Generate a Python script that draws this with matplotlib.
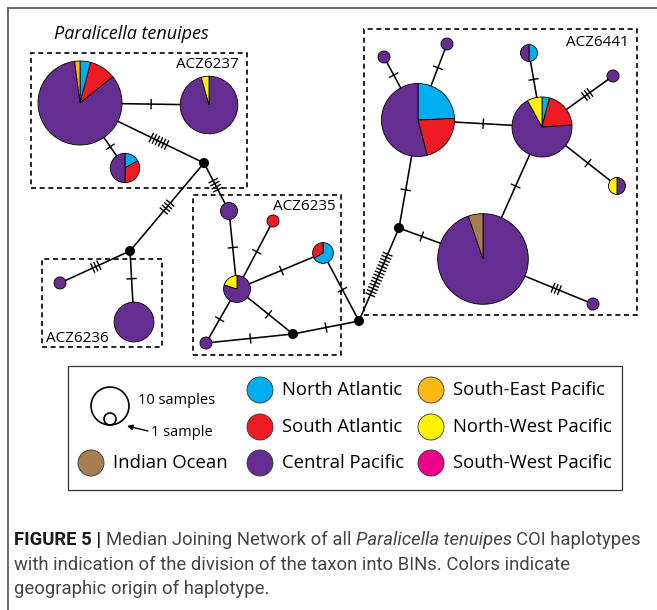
import matplotlib
matplotlib.use("Agg")
import matplotlib.pyplot as plt
import numpy as np
from matplotlib.patches import Circle, Rectangle

W, H = 657, 610

# regions, in the clockwise slice order used by the pies
regions = ["North Atlantic", "South Atlantic", "Central Pacific", "Indian Ocean",
           "North-West Pacific", "South-East Pacific", "South-West Pacific"]
region_colors = ["#00AEEF", "#ED1C24", "#662D91", "#A67C52",
                 "#FFF200", "#FDB913", "#EC008C"]

# haplotypes and sample counts per region
haplotypes = ["h1", "h2", "h3", "h4", "h5", "h6", "h7", "h8", "h9", "h10",
              "h11", "h12", "h13", "h14", "h15", "h16", "h17", "h18", "h19"]
north_atlantic = [2, 0, 1, 0, 0, 0, 0, 2, 0, 0, 9, 0, 0, 1, 1, 0, 0, 0, 0]
south_atlantic = [5, 0, 2, 0, 0, 0, 1, 1, 0, 0, 8, 0, 0, 5, 0, 0, 0, 0, 0]
central_pacific = [41, 22, 3, 2, 1, 11, 0, 0, 4, 1, 20, 1, 1, 17, 1, 1, 1, 54, 1]
indian_ocean = [0, 0, 0, 0, 0, 0, 0, 0, 0, 0, 0, 0, 0, 0, 0, 0, 0, 3, 0]
nw_pacific = [0, 1, 0, 0, 0, 0, 0, 0, 1, 0, 0, 0, 0, 2, 0, 0, 1, 0, 0]
se_pacific = [1, 0, 0, 0, 0, 0, 0, 0, 0, 0, 0, 0, 0, 0, 0, 0, 0, 0, 0]
sw_pacific = [0] * 19

# median vectors (black dots)
medians = ["m1", "m2", "m3", "m4", "m5"]

# network links and number of mutation steps
links = [("h1", "h2"), ("h1", "h3"), ("h1", "m1"), ("m1", "m2"), ("m1", "h4"),
         ("m2", "h5"), ("m2", "h6"), ("h4", "h9"), ("h7", "h9"), ("h8", "h9"),
         ("h9", "h10"), ("h9", "m3"), ("h10", "m3"), ("m3", "m4"), ("h8", "m4"),
         ("m4", "m5"), ("m5", "h18"), ("m5", "h11"), ("h11", "h12"), ("h11", "h13"),
         ("h11", "h14"), ("h14", "h15"), ("h14", "h16"), ("h14", "h17"),
         ("h14", "h18"), ("h18", "h19")]
mutations = [1, 1, 6, 4, 4, 3, 1, 1, 1, 1, 1, 1, 1, 1, 1, 14, 1, 1, 1, 1, 1, 1, 3, 1, 1, 3]

bins = ["ACZ6237", "ACZ6236", "ACZ6235", "ACZ6441"]

# --- layout (pixel positions, y from top) ---
node_pos = {
    "h1": (80, 103), "h2": (209, 105), "h3": (125, 168), "h4": (229, 211),
    "h5": (60, 283), "h6": (134, 322), "h7": (273, 221), "h8": (323, 253),
    "h9": (237, 289), "h10": (206, 343), "h11": (418, 120), "h12": (384, 57),
    "h13": (447, 44), "h14": (542, 127), "h15": (529, 53), "h16": (613, 76),
    "h17": (617, 186), "h18": (483, 259), "h19": (593, 304),
    "m1": (204, 163), "m2": (130, 251), "m3": (293, 334), "m4": (359, 321),
    "m5": (399, 228),
}
bin_boxes = [(31, 53, 247, 188), (42, 259, 162, 347), (193, 195, 341, 355), (364, 29, 637, 315)]
bin_label_pos = [(239, 64, "right"), (46, 338, "left"), (336, 206, "right"), (629, 43, "right")]

R1 = 6.0
MED_R = 4.3
UI_FONT = ["Open Sans", "DejaVu Sans"]


def Y(y):
    return H - y


fig = plt.figure(figsize=(W / 100, H / 100), dpi=100)
ax = fig.add_axes([0, 0, 1, 1])

counts = np.array([north_atlantic, south_atlantic, central_pacific, indian_ocean,
                   nw_pacific, se_pacific, sw_pacific]).T
radius = {}
for name, row in zip(haplotypes, counts):
    radius[name] = R1 * np.sqrt(row.sum())
for m in medians:
    radius[m] = MED_R

# links with mutation ticks
for (a, b), nmut in zip(links, mutations):
    pa = np.array(node_pos[a], float)
    pb = np.array(node_pos[b], float)
    ax.plot([pa[0], pb[0]], [Y(pa[1]), Y(pb[1])], color="black", lw=1.15, zorder=1,
            solid_capstyle="butt")
    u = (pb - pa) / np.linalg.norm(pb - pa)
    nv = np.array([-u[1], u[0]])
    s0 = pa + u * radius[a]
    s1 = pb - u * radius[b]
    mid = (s0 + s1) / 2
    sp = 3.4
    for k in range(nmut):
        c = mid + u * (k - (nmut - 1) / 2) * sp
        t0 = c + nv * 4.5
        t1 = c - nv * 4.5
        ax.plot([t0[0], t1[0]], [Y(t0[1]), Y(t1[1])], color="black", lw=1.0, zorder=1)

# haplotype pies
for name, row in zip(haplotypes, counts):
    x, y = node_pos[name]
    keep = row > 0
    ax.pie(row[keep], colors=[c for c, k in zip(region_colors, keep) if k],
           center=(x, Y(y)), radius=radius[name], startangle=90, counterclock=False,
           wedgeprops=dict(edgecolor="black", linewidth=0.6), frame=True)

for m in medians:
    x, y = node_pos[m]
    ax.add_patch(Circle((x, Y(y)), MED_R, color="black", zorder=3))

# BIN boxes
for (x0, y0, x1, y1), lab, (lx, ly, ha) in zip(bin_boxes, bins, bin_label_pos):
    ax.add_patch(Rectangle((x0, Y(y1)), x1 - x0, y1 - y0, fill=False, ec="black",
                           lw=1.2, ls=(0, (3, 2.2)), zorder=0))
    ax.text(lx, Y(ly), lab, ha=ha, va="center", fontsize=11, family=UI_FONT)

ax.text(54, Y(34), "Paralicella tenuipes", ha="left", va="center", fontsize=13,
        style="italic", family=UI_FONT)

# legend box
ax.add_patch(Rectangle((68, Y(490)), 554, 124, fill=False, ec="#333333", lw=0.9))
ax.add_patch(Circle((110, Y(406)), R1 * np.sqrt(10), fill=False, ec="black", lw=1.2))
ax.add_patch(Circle((110, Y(419)), R1, fill=False, ec="black", lw=1.2))
ax.text(138, Y(401), "10 samples", ha="left", va="center", fontsize=10.5, family=UI_FONT)
ax.text(151, Y(432), "1 sample", ha="left", va="center", fontsize=10.5, family=UI_FONT)
ax.annotate("", xy=(127, Y(426)), xytext=(148, Y(431)),
            arrowprops=dict(arrowstyle="-|>", color="black", lw=1.0, mutation_scale=8,
                            shrinkA=0, shrinkB=0))

legend_slots = {
    "Indian Ocean": (91, 463),
    "North Atlantic": (260, 390), "South Atlantic": (260, 427), "Central Pacific": (260, 463),
    "South-East Pacific": (431, 390), "North-West Pacific": (431, 427),
    "South-West Pacific": (431, 463),
}
for reg, col in zip(regions, region_colors):
    cx, cy = legend_slots[reg]
    ax.add_patch(Circle((cx, Y(cy)), 13, fc=col, ec="#333333", lw=0.6))
    ax.text(cx + 22, Y(cy), reg, ha="left", va="center", fontsize=13.3, family=UI_FONT)

# frame lines
ax.plot([8, W], [Y(8), Y(8)], color="#555555", lw=1.2)
ax.plot([8, 8], [Y(8), 0], color="#555555", lw=1.2)

ax.set_xlim(0, W)
ax.set_ylim(0, H)
ax.set_aspect("auto")
ax.axis("off")

# caption with mixed styles
CAP_FONT = ["Roboto", "DejaVu Sans"]
renderer = fig.canvas.get_renderer()


def text_w(s, **kw):
    t = ax.text(0, 0, s, **kw)
    w = t.get_window_extent(renderer=renderer).width
    t.remove()
    return w


def draw_runs(x, y, runs, size):
    for s, st in runs:
        kw = dict(fontsize=size, family=CAP_FONT, color="#454545")
        kw.update(st)
        if s == " ":
            x += text_w("a a", **kw) - text_w("aa", **kw)
            continue
        t = ax.text(x, Y(y), s, ha="left", va="baseline", **kw)
        x += t.get_window_extent(renderer=renderer).width


cap = 13.3
bold = dict(weight="bold", color="#1a1a1a")
draw_runs(14, 545, [("FIGURE 5 |", bold), (" ", {}), ("Median Joining Network of all", {}),
                    (" ", {}), ("Paralicella tenuipes", dict(style="italic")), (" ", {}),
                    ("COI haplotypes", {})], cap)
draw_runs(14, 570, [("with indication of the division of the taxon into BINs. Colors indicate", {})], cap)
draw_runs(14, 594, [("geographic origin of haplotype.", {})], cap)

fig.savefig("out.png", dpi=100)
